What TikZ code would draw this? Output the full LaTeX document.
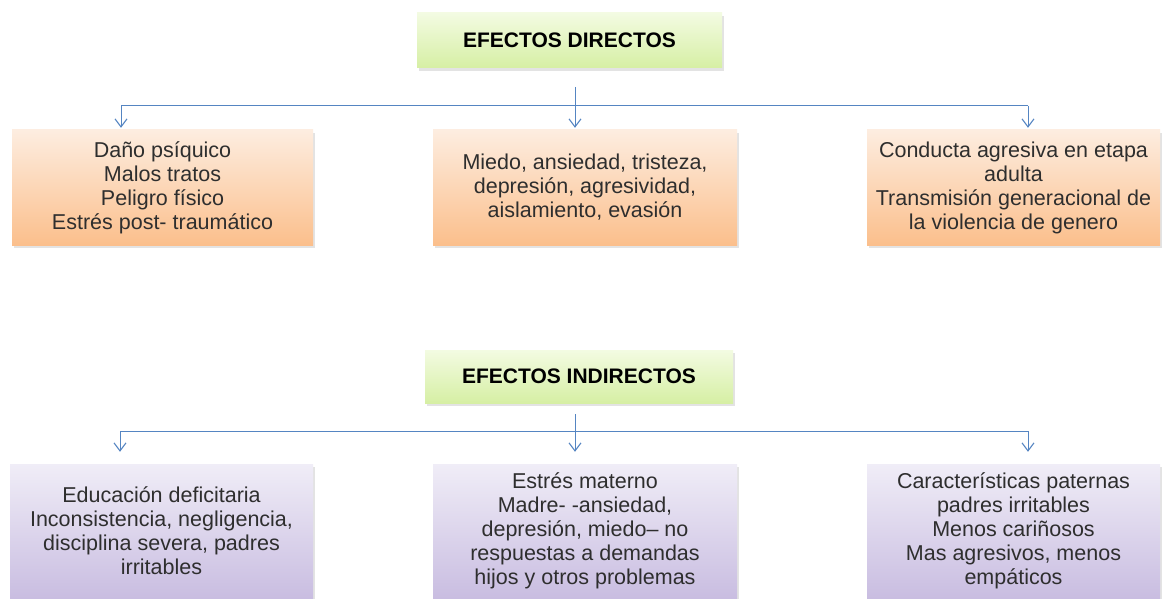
\documentclass[tikz,border=0pt]{standalone}
\usepackage{fontspec}
\setmainfont{Liberation Sans}
\usetikzlibrary{arrows.meta,shadows}
\definecolor{lineblue}{HTML}{5585C2}
\definecolor{txt}{HTML}{2E2E2E}
\definecolor{gtop}{HTML}{F3FBE2}
\definecolor{gbot}{HTML}{D6EFA4}
\definecolor{otop}{HTML}{FDEDE0}
\definecolor{obot}{HTML}{FBBF8C}
\definecolor{ptop}{HTML}{F0EDF7}
\definecolor{pbot}{HTML}{C9BDE1}
\tikzset{
  x=1pt,y=-1pt,
  boxbase/.style={rectangle, inner sep=0pt, align=center, text=txt,
    font=\fontsize{21.5}{24}\selectfont,
    drop shadow={opacity=0.22, shadow xshift=2pt, shadow yshift=-3pt}},
  titlebox/.style={boxbase, top color=gtop, bottom color=gbot, text=black,
    font=\fontsize{21}{24}\selectfont\bfseries},
  orangebox/.style={boxbase, top color=otop, bottom color=obot},
  purplebox/.style={boxbase, top color=ptop, bottom color=pbot},
  link/.style={draw=lineblue, line width=1pt},
  arrowlink/.style={link, -{Straight Barb[length=8pt,width=12pt,line width=1.1pt]}},
}
\begin{document}
\begin{tikzpicture}
\clip (0,0) rectangle (1164,599);
\fill[white] (0,0) rectangle (1164,599);

% top group
\node[titlebox, minimum width=305pt, minimum height=55pt] (t1) at (569.5,40.5) {EFECTOS DIRECTOS};
\node[orangebox, minimum width=301pt, minimum height=115pt] (a1) at (162.5,187.5)
  {Daño psíquico\\Malos tratos\\Peligro físico\\Estrés post- traumático};
\node[orangebox, minimum width=304pt, minimum height=115pt] (a2) at (585,187.5)
  {Miedo, ansiedad, tristeza,\\depresión, agresividad,\\aislamiento, evasión};
\node[orangebox, minimum width=293pt, minimum height=115pt] (a3) at (1013.5,187.5)
  {Conducta agresiva en etapa\\adulta\\Transmisión generacional de\\la violencia de genero};

\coordinate (s1) at (575,87);
\coordinate (l1) at (121,106);
\coordinate (r1) at (1028,106);
\draw[link] (l1) -- (r1);
\draw[arrowlink, shorten >=2pt] (s1) -- (s1 |- a2.north);
\draw[arrowlink, shorten >=2pt] (l1) -- (l1 |- a1.north);
\draw[arrowlink, shorten >=2pt] (r1) -- (r1 |- a3.north);

% bottom group
\node[titlebox, minimum width=308pt, minimum height=53pt] (t2) at (579,376.5) {EFECTOS INDIRECTOS};
\node[purplebox, minimum width=303pt, minimum height=134pt] (b1) at (161.5,531)
  {Educación deficitaria\\Inconsistencia, negligencia,\\disciplina severa, padres\\irritables};
\node[purplebox, minimum width=304pt, minimum height=134pt] (b2) at (585,531)
  {Estrés materno\\Madre- -ansiedad,\\depresión, miedo– no\\respuestas a demandas\\hijos y otros problemas};
\node[purplebox, minimum width=293pt, minimum height=134pt] (b3) at (1013.5,531)
  {Características paternas\\padres irritables\\Menos cariñosos\\Mas agresivos, menos\\empáticos};

\coordinate (s2) at (575,414);
\coordinate (l2) at (120,431);
\coordinate (r2) at (1028,431);
\draw[link] (l2) -- (r2);
\draw[arrowlink, shorten >=12pt] (s2) -- (s2 |- b2.north);
\draw[arrowlink, shorten >=12pt] (l2) -- (l2 |- b1.north);
\draw[arrowlink, shorten >=12pt] (r2) -- (r2 |- b3.north);
\end{tikzpicture}
\end{document}
